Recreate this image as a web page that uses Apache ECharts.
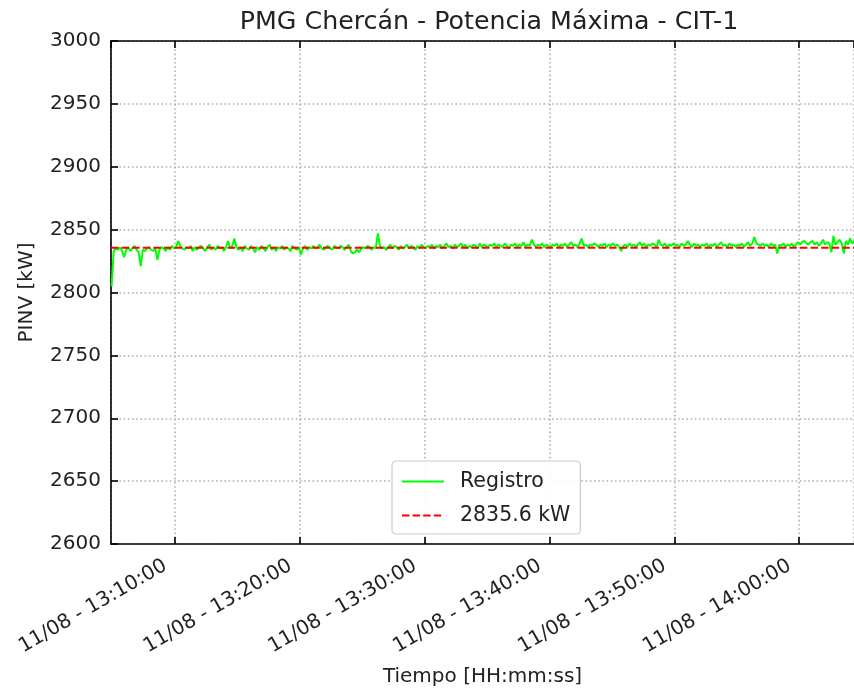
<!DOCTYPE html>
<html>
<head>
<meta charset="utf-8">
<script src="https://cdn.jsdelivr.net/npm/echarts@6/dist/echarts.min.js"></script>
<style>
html,body{margin:0;padding:0;background:#fff;}
#chart{width:854px;height:691px;}
</style>
</head>
<body>
<div id="chart"></div>
<script>
// ---- data ----
const dateLabel = '11/08';
const originHour = 13;                 // x values are minutes after 13:00:00
const sampleStartMinutes = 4 + 55 / 60; // 13:04:55 first sample
const sampleStepSeconds = 10;
const axisStartMinutes = 4 + 52 / 60;   // 13:04:52
const axisEndMinutes = 64 + 24 / 60;    // 14:04:24
const registroValues = [
  2805,
  2833,2835,2834,2836,2833,2828, // 13:05
  2834,2836,2833,2835,2837,2834, // 13:06
  2832,2821,2834,2833,2835,2836, // 13:07
  2834,2833,2835,2826,2834,2836, // 13:08
  2835,2833,2836,2834,2837,2835, // 13:09
  2836,2841,2837,2835,2834,2836, // 13:10
  2835,2837,2833,2836,2834,2836, // 13:11
  2837,2835,2833,2836,2838,2834, // 13:12
  2836,2834,2837,2835,2836,2833, // 13:13
  2836,2841,2835,2837,2843,2836, // 13:14
  2834,2836,2833,2837,2835,2834, // 13:15
  2837,2835,2832,2836,2834,2837, // 13:16
  2835,2833,2836,2838,2834,2836, // 13:17
  2833,2836,2835,2837,2834,2836, // 13:18
  2835,2833,2837,2835,2834,2836, // 13:19
  2830,2835,2837,2834,2836,2835, // 13:20
  2837,2835,2836,2838,2835,2834, // 13:21
  2836,2837,2835,2834,2837,2836, // 13:22
  2835,2837,2836,2834,2836,2838, // 13:23
  2833,2831,2832,2834,2832,2835, // 13:24
  2836,2835,2837,2836,2834,2836, // 13:25
  2835,2847,2837,2835,2836,2834, // 13:26
  2836,2838,2835,2837,2836,2834, // 13:27
  2837,2835,2836,2838,2835,2837, // 13:28
  2836,2834,2837,2835,2838,2836, // 13:29
  2835,2837,2836,2838,2835,2837, // 13:30
  2836,2838,2835,2837,2839,2836, // 13:31
  2837,2835,2838,2836,2837,2839, // 13:32
  2836,2838,2835,2837,2836,2838, // 13:33
  2837,2835,2839,2836,2838,2837, // 13:34
  2836,2838,2837,2839,2836,2838, // 13:35
  2837,2836,2839,2837,2835,2838, // 13:36
  2837,2839,2836,2838,2837,2840, // 13:37
  2836,2838,2837,2842,2838,2836, // 13:38
  2838,2837,2839,2836,2838,2837, // 13:39
  2836,2838,2837,2839,2836,2838, // 13:40
  2837,2839,2836,2838,2840,2837, // 13:41
  2838,2836,2839,2843,2837,2838, // 13:42
  2836,2838,2837,2839,2838,2836, // 13:43
  2838,2837,2839,2836,2838,2837, // 13:44
  2839,2837,2838,2836,2833,2837, // 13:45
  2838,2836,2839,2837,2838,2836, // 13:46
  2838,2840,2837,2839,2836,2838, // 13:47
  2837,2839,2838,2836,2842,2838, // 13:48
  2837,2839,2836,2838,2837,2839, // 13:49
  2837,2838,2836,2839,2837,2838, // 13:50
  2841,2838,2836,2839,2837,2838, // 13:51
  2836,2838,2837,2839,2836,2838, // 13:52
  2837,2839,2836,2838,2840,2837, // 13:53
  2838,2836,2839,2837,2838,2836, // 13:54
  2838,2837,2839,2836,2838,2840, // 13:55
  2837,2839,2844,2839,2838,2837, // 13:56
  2839,2837,2838,2836,2839,2837, // 13:57
  2838,2831,2838,2837,2839,2836, // 13:58
  2838,2837,2839,2836,2838,2840, // 13:59
  2838,2840,2841,2839,2838,2840, // 14:00
  2841,2838,2840,2837,2839,2842, // 14:01
  2838,2840,2839,2832,2845,2838, // 14:02
  2840,2842,2839,2831,2841,2838, // 14:03
  2843,2839,2841,2838,2840,2839  // 14:04
];
const thresholdValue = 2835.6;
const thresholdName = '2835.6 kW';
const registroName = 'Registro';
const yMin = 2600, yMax = 3000, yStep = 50;

// ---- build ----
const registroData = registroValues.map((v, i) => [sampleStartMinutes + i * sampleStepSeconds / 60, v]);
const thresholdData = [[axisStartMinutes, thresholdValue], [registroData[registroData.length - 1][0], thresholdValue]];

function pad(n) { return (n < 10 ? '0' : '') + n; }
function fmt(v) {
  const totalSec = Math.round(v * 60);
  const h = originHour + Math.floor(totalSec / 3600);
  const m = Math.floor((totalSec % 3600) / 60);
  const s = totalSec % 60;
  return dateLabel + ' - ' + pad(h) + ':' + pad(m) + ':' + pad(s);
}

const FONT = 'DejaVu Sans';
const TXT = '#222';
const gridLine = { show: true, lineStyle: { color: '#b0b0b0', width: 1.6, type: [1.6, 2.6] } };

const chart = echarts.init(document.getElementById('chart'), null, { renderer: 'canvas' });
chart.setOption({
  animation: false,
  backgroundColor: '#fff',
  textStyle: { fontFamily: FONT },
  title: {
    text: 'PMG Chercán - Potencia Máxima - CIT-1',
    left: 484, top: 5, textAlign: 'center',
    textStyle: { fontFamily: FONT, fontSize: 25.3, fontWeight: 'normal', color: TXT }
  },
  grid: { left: 111, right: 0, top: 41, bottom: 147, containLabel: false, outerBoundsMode: 'none' },
  legend: {
    orient: 'vertical',
    left: 392, top: 461,
    padding: [10, 10, 8, 9],
    itemGap: 13,
    itemWidth: 42, itemHeight: 14,
    backgroundColor: 'rgba(255,255,255,0.9)',
    borderColor: '#cccccc', borderWidth: 1.2, borderRadius: 4,
    itemStyle: { opacity: 0 },
    textStyle: { fontFamily: FONT, fontSize: 20.5, color: TXT, padding: [0, 0, 0, 11] },
    data: [registroName, thresholdName]
  },
  xAxis: [{
    type: 'value', min: axisStartMinutes, max: axisEndMinutes, splitNumber: 6,
    name: 'Tiempo [HH:mm:ss]', nameLocation: 'middle', nameGap: 123,
    nameTextStyle: { fontFamily: FONT, fontSize: 20, color: TXT },
    axisLine: { onZero: false, lineStyle: { color: '#000', width: 1.6 } },
    axisTick: { inside: true, length: 7, lineStyle: { color: '#000', width: 1.6 } },
    axisLabel: { rotate: 30, margin: 15, padding: [0, 11, 0, 0], fontFamily: FONT, fontSize: 20, color: TXT, formatter: fmt, hideOverlap: false, showMinLabel: false, showMaxLabel: false },
    splitLine: gridLine
  }, {
    type: 'value', position: 'top', min: axisStartMinutes, max: axisEndMinutes, splitNumber: 6,
    axisLine: { onZero: false, lineStyle: { color: '#000', width: 1.6 } },
    axisTick: { inside: true, length: 7, lineStyle: { color: '#000', width: 1.6 } },
    axisLabel: { show: false },
    splitLine: { show: false }
  }],
  yAxis: {
    type: 'value', min: yMin, max: yMax, interval: yStep,
    name: 'PINV [kW]', nameLocation: 'middle', nameGap: 74,
    nameTextStyle: { fontFamily: FONT, fontSize: 20, color: TXT },
    axisLine: { show: true, lineStyle: { color: '#000', width: 1.6 } },
    axisTick: { show: true, inside: true, length: 7, lineStyle: { color: '#000', width: 1.6 } },
    axisLabel: { margin: 10, fontFamily: FONT, fontSize: 20, color: TXT, formatter: v => String(v) },
    splitLine: gridLine
  },
  series: [{
    name: registroName, type: 'line', data: registroData,
    showSymbol: false, symbol: 'none',
    lineStyle: { color: '#00ff00', width: 2 }, itemStyle: { color: '#00ff00' },
    clip: true
  }, {
    name: thresholdName, type: 'line', data: thresholdData,
    showSymbol: false, symbol: 'none',
    lineStyle: { color: '#ff0000', width: 2, type: [7.4, 3.2] }, itemStyle: { color: '#ff0000' },
    clip: true, z: 3
  }]
});
</script>
</body>
</html>
